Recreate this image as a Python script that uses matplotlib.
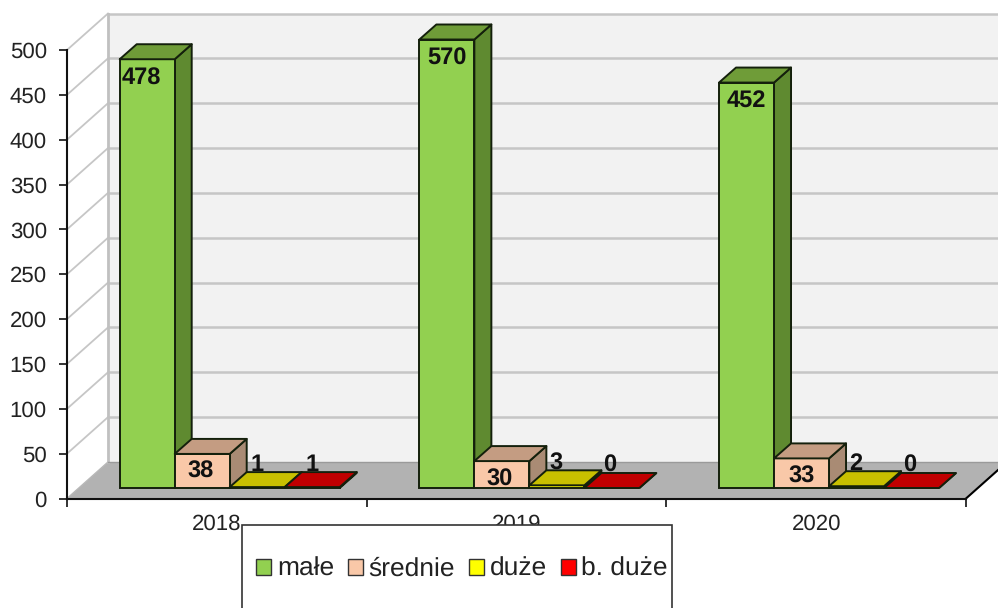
import numpy as np
import matplotlib
matplotlib.use("Agg")
import matplotlib.pyplot as plt
from matplotlib.patches import Polygon, Rectangle


# =========================
# Data
# =========================

years = ["2018", "2019", "2020"]
series_names = ["małe", "średnie", "duże", "b. duże"]

male = [478, 570, 452]
srednie = [38, 30, 33]
duze = [1, 3, 2]
b_duze = [1, 0, 0]

y_ticks = [0, 50, 100, 150, 200, 250, 300, 350, 400, 450, 500]

# =========================
# Style
# =========================

front_colors = ["#92D050", "#F9C8A8", "#FFFF00", "#FF0000"]
top_colors = ["#6F9C38", "#C49C82", "#C8C000", "#C00000"]
side_colors = ["#5F8A30", "#A98B74", "#A8A000", "#A00000"]

# label offsets from the top centre of the front face, pixels (x right, y down)
label_dx = [[-6, -1.5, 0, 0], [0, -2, -1, -2], [0, 0, -1, -2]]
label_dy = [[19, 18, -22, -22], [19, 18, -22, -22], [19, 18, -22, -22]]

plt.rcParams["font.family"] = ["Liberation Sans", "DejaVu Sans"]
plt.rcParams["text.hinting"] = "none"

W, H = 998, 608
AX_L, AX_R, AX_BOTTOM, AX_TOP = 67, 966, 498.5, 50

fig = plt.figure(figsize=(W / 100, H / 100), dpi=100)
ax = fig.add_axes([AX_L / W, (H - AX_BOTTOM) / H,
                   (AX_R - AX_L) / W, (AX_BOTTOM - AX_TOP) / H])
ax.set_xlim(0, 3)
ax.set_ylim(0, 500)
ax.patch.set_alpha(0)

# pixel sizes turned into axis units
px_x = 3 / (AX_R - AX_L)
px_y = 500 / (AX_BOTTOM - AX_TOP)

room_dx, room_dy = 41 * px_x, 36.5 * px_y
bar_dx, bar_dy = 17 * px_x, 15 * px_y
base_dx, base_dy = 11 * px_x, 10.5 * px_y
bar_w = 55 * px_x
gap = 41.7 * px_x

# back wall, floor, grid
ax.add_patch(Polygon([(room_dx, room_dy), (3 + room_dx, room_dy),
                      (3 + room_dx, 500 + room_dy), (room_dx, 500 + room_dy)],
                     fc="#F2F2F2", ec="none", clip_on=False, zorder=1))
ax.add_patch(Polygon([(0, 0), (3, 0), (3 + room_dx, room_dy), (room_dx, room_dy)],
                     fc="#B2B2B2", ec="none", clip_on=False, zorder=1))

for v in y_ticks:
    if v > 0:
        ax.plot([room_dx, 3 + room_dx], [v + room_dy, v + room_dy], color="#C6C6C6",
                lw=1.8, clip_on=False, zorder=1.2, solid_capstyle="butt")
        ax.plot([0, room_dx], [v, v + room_dy], color="#C6C6C6",
                lw=1.3, clip_on=False, zorder=1.2)

ax.plot([0, room_dx], [0, room_dy], color="#B8B8B8", lw=1.0, clip_on=False, zorder=1.2)
ax.plot([room_dx, room_dx], [room_dy, 500 + room_dy], color="#C0C0C0",
        lw=2.0, clip_on=False, zorder=1.3)
ax.plot([room_dx, 3 + room_dx], [room_dy, room_dy], color="#9A9A9A",
        lw=1.0, clip_on=False, zorder=1.3)
ax.plot([3, 3 + room_dx], [0, room_dy], color="black", lw=1.5, clip_on=False, zorder=1.4)

# bars
all_series = [male, srednie, duze, b_duze]
edge = "#14200C"
for g in range(len(years)):
    x0 = g + base_dx + gap
    for s, values in enumerate(all_series):
        # the axis stops at 500, taller bars are cut there
        h = min(values[g], 500)
        left = x0 + s * bar_w
        right = left + bar_w
        z = 3 + g + s * 0.1
        base = base_dy
        top = base + h
        ax.add_patch(Polygon([(right, base), (right + bar_dx, base + bar_dy),
                              (right + bar_dx, top + bar_dy), (right, top)],
                             fc=side_colors[s], ec=edge, lw=1.4, clip_on=False,
                             zorder=z, joinstyle="round"))
        ax.bar(left, h, bar_w, bottom=base, align="edge", color=front_colors[s],
               edgecolor=edge, linewidth=1.4, clip_on=False, zorder=z)
        ax.add_patch(Polygon([(left, top), (right, top),
                              (right + bar_dx, top + bar_dy), (left + bar_dx, top + bar_dy)],
                             fc=top_colors[s], ec=edge, lw=1.4, clip_on=False,
                             zorder=z, joinstyle="round"))
        ax.annotate(str(values[g]), xy=(left + bar_w / 2, top),
                    xytext=(label_dx[g][s], -label_dy[g][s]),
                    textcoords="offset pixels", ha="center", va="center",
                    fontsize=17, fontweight="bold", color="#111111",
                    annotation_clip=False, zorder=10)

# axes
for name in ["top", "right"]:
    ax.spines[name].set_visible(False)
for name in ["left", "bottom"]:
    ax.spines[name].set_linewidth(1.5)
    ax.spines[name].set_color("#111111")
    ax.spines[name].set_zorder(2)

ax.set_yticks(y_ticks)
ax.set_xticks([0, 1, 2, 3])
ax.set_xticklabels([])
ax.set_xticks([0.5, 1.5, 2.5], labels=years, minor=True)
ax.tick_params(axis="y", length=5.5, width=1.2, labelsize=16, pad=9, color="#111111",
               labelcolor="#222222")
ax.tick_params(axis="x", which="major", length=5.5, width=1.2, color="#111111")
ax.tick_params(axis="x", which="minor", length=0, labelsize=16, pad=11,
               labelcolor="#222222")

# legend box runs past the bottom edge of the picture
box = Rectangle((242 / W, -10 / H), (672 - 242) / W, (H + 10 - 525) / H,
                transform=fig.transFigure, fc="white", ec="#333333", lw=1.2, zorder=5)
fig.add_artist(box)

handles = [Rectangle((0, 0), 1, 1, fc=c, ec="#333333", lw=1.0) for c in front_colors]
leg = fig.legend(handles, series_names, ncol=4, frameon=False, fontsize=19,
                 loc="center", bbox_to_anchor=(462 / W, (H - 569.5) / H),
                 handlelength=0.57, handleheight=0.57, handletextpad=0.22,
                 columnspacing=0.52, borderpad=0, borderaxespad=0,
                 labelcolor="#222222")
leg.set_zorder(6)

fig.savefig("out.png", dpi=100)
